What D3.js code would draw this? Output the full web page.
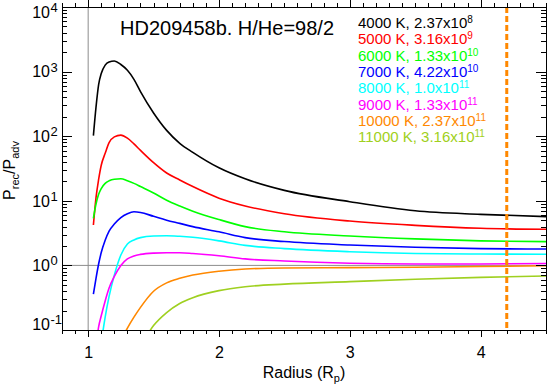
<!DOCTYPE html>
<html>
<head>
<meta charset="utf-8">
<script src="https://cdn.jsdelivr.net/npm/d3@7"></script>
<style>
  body { margin: 0; background: #fff; }
  text { font-family: "Liberation Sans", Arial, Helvetica, sans-serif; }
</style>
</head>
<body>
<div id="chart"></div>
<script>
// radius grid (in planet radii) shared by all curves
const radius = [1.04, 1.06, 1.08, 1.10, 1.13, 1.16, 1.20, 1.25, 1.30, 1.35, 1.40,
                1.50, 1.60, 1.70, 1.80, 2.00, 2.20, 2.50, 3.00, 3.50, 4.00, 4.50];

// P_rec / P_adv for each temperature
const ratio4000  = [102, 282, 631, 933, 1259, 1413, 1462, 1288, 1047, 759, 490,
                    229, 123, 77.6, 56.2, 32.4, 21.9, 14.5, 9.68, 7.0, 6.17, 5.68];
const ratio5000  = [4.22, 11.2, 21.4, 35.5, 54.3, 79.4, 97.7, 104, 93.3, 75.9, 60.3,
                    38.9, 26.9, 21.0, 16.6, 11.0, 8.32, 6.31, 4.86, 4.17, 3.76, 3.62];
const ratio6000  = [5.36, 8.91, 12.6, 15.5, 18.6, 20.4, 21.6, 21.9, 20.4, 18.6, 16.6,
                    13.2, 10.2, 8.32, 6.92, 5.13, 3.98, 3.31, 2.85, 2.57, 2.40, 2.33];
const ratio7000  = [0.36, 0.631, 1.05, 1.58, 2.45, 3.39, 4.37, 5.50, 6.31, 6.76, 6.61,
                    5.75, 5.01, 4.47, 3.98, 3.31, 2.69, 2.34, 2.07, 1.91, 1.82, 1.79];
const ratio8000  = [0.005, 0.0141, 0.0316, 0.063, 0.158, 0.331, 0.708, 1.45, 2.14, 2.48, 2.69,
                    2.85, 2.88, 2.82, 2.72, 2.40, 2.04, 1.82, 1.63, 1.53, 1.50, 1.49];
const ratio9000  = [0.025, 0.056, 0.112, 0.166, 0.282, 0.447, 0.676, 1.0, 1.26, 1.40, 1.48,
                    1.55, 1.57, 1.57, 1.53, 1.41, 1.26, 1.17, 1.08, 1.05, 1.05, 1.07];
const ratio10000 = [null, null, null, null, null, null, null, 0.0676, 0.107, 0.158, 0.224,
                    0.398, 0.537, 0.631, 0.708, 0.813, 0.879, 0.912, 0.923, 0.938, 0.959, 0.989];
const ratio11000 = [null, null, null, null, null, null, null, null, null, null, 0.056,
                    0.117, 0.186, 0.257, 0.316, 0.407, 0.468, 0.513, 0.56, 0.61, 0.653, 0.686];

const temps = [4000, 5000, 6000, 7000, 8000, 9000, 10000, 11000];
const rateMantissa = ['2.37', '3.16', '1.33', '4.22', '1.0', '1.33', '2.37', '3.16'];
const rateExponent = ['8', '9', '10', '10', '11', '11', '11', '11'];
const yTickExponents = ['-1', '0', '1', '2', '3', '4'];
const xTickValues = [1, 2, 3, 4];
const sonicRadius = 4.2;

const series = [ratio4000, ratio5000, ratio6000, ratio7000, ratio8000, ratio9000, ratio10000, ratio11000];
const colors = ['#000000', '#ff0000', '#00ff00', '#0000ff', '#00ffff', '#ff00ff', '#ff8800', '#9fd020'];

const width = 548;
const height = 386;
const plotLeft = 62, plotRight = 546, plotTop = 7, plotBottom = 330;

const svg = d3.select('#chart').append('svg')
  .attr('width', width)
  .attr('height', height);

const x = d3.scaleLinear()
  .domain([0.8, 4.5])
  .range([plotLeft, plotRight]);

const y = d3.scaleLog()
  .domain([0.1, 1e4])
  .range([plotBottom, plotTop]);

const yMajor = yTickExponents.map(e => Math.pow(10, +e));
const yMinor = [];
yMajor.slice(0, -1).forEach(d => { for (let k = 2; k < 10; k++) yMinor.push(d * k); });
const xMinor = d3.range(8, 46).map(d => d / 10);

svg.append('defs').append('clipPath')
  .attr('id', 'plot-clip')
  .append('rect')
    .attr('x', plotLeft)
    .attr('y', plotTop)
    .attr('width', plotRight - plotLeft)
    .attr('height', plotBottom - plotTop);

// reference lines at r = 1 and ratio = 1
svg.append('line')
  .attr('x1', x(1)).attr('x2', x(1))
  .attr('y1', plotTop).attr('y2', plotBottom)
  .attr('stroke', '#8c8c8c')
  .attr('stroke-width', 1);

svg.append('line')
  .attr('x1', plotLeft).attr('x2', plotRight)
  .attr('y1', y(1)).attr('y2', y(1))
  .attr('stroke', '#8c8c8c')
  .attr('stroke-width', 1);

const line = d3.line()
  .defined(d => d != null)
  .x((d, i) => x(radius[i]))
  .y(d => y(d))
  .curve(d3.curveMonotoneX);

svg.append('g')
  .attr('clip-path', 'url(#plot-clip)')
  .selectAll('path')
  .data(series)
  .join('path')
    .attr('d', d => line(d))
    .attr('fill', 'none')
    .attr('stroke', (d, i) => colors[i])
    .attr('stroke-width', 1.6);

// sonic point
svg.append('line')
  .attr('x1', x(sonicRadius)).attr('x2', x(sonicRadius))
  .attr('y1', plotTop).attr('y2', plotBottom)
  .attr('stroke', '#ff8800')
  .attr('stroke-width', 3)
  .attr('stroke-dasharray', '6,3');

// axes
const noDomain = g => g.select('.domain').remove();

svg.append('g')
  .attr('transform', `translate(0,${plotBottom})`)
  .call(d3.axisBottom(x).tickValues(xMinor).tickSize(4).tickFormat(''))
  .call(noDomain);

svg.append('g')
  .attr('class', 'x-major')
  .attr('transform', `translate(0,${plotBottom})`)
  .call(d3.axisBottom(x).tickValues(xTickValues).tickSize(7).tickPadding(10).tickFormat(d3.format('d')))
  .call(noDomain)
  .selectAll('text')
    .attr('font-size', 16)
    .attr('font-family', null);

svg.append('g')
  .attr('transform', `translate(0,${plotTop})`)
  .call(d3.axisTop(x).tickValues(xMinor).tickSize(4).tickFormat(''))
  .call(noDomain);

svg.append('g')
  .attr('transform', `translate(0,${plotTop})`)
  .call(d3.axisTop(x).tickValues(xTickValues).tickSize(7).tickFormat(''))
  .call(noDomain);

svg.append('g')
  .attr('transform', `translate(${plotLeft},0)`)
  .call(d3.axisLeft(y).tickValues(yMinor).tickSize(-5).tickFormat(''))
  .call(noDomain);

svg.append('g')
  .attr('transform', `translate(${plotLeft},0)`)
  .call(d3.axisLeft(y).tickValues(yMajor).tickSize(-10).tickFormat(''))
  .call(noDomain);

svg.append('g')
  .attr('transform', `translate(${plotRight},0)`)
  .call(d3.axisRight(y).tickValues(yMinor).tickSize(-5).tickFormat(''))
  .call(noDomain);

svg.append('g')
  .attr('transform', `translate(${plotRight},0)`)
  .call(d3.axisRight(y).tickValues(yMajor).tickSize(-10).tickFormat(''))
  .call(noDomain);

svg.selectAll('.tick line').attr('shape-rendering', 'crispEdges');

svg.append('rect')
  .attr('x', plotLeft)
  .attr('y', plotTop)
  .attr('width', plotRight - plotLeft)
  .attr('height', plotBottom - plotTop)
  .attr('fill', 'none')
  .attr('stroke', '#000')
  .attr('stroke-width', 1)
  .attr('shape-rendering', 'crispEdges');

// y tick labels 10^n
const yLabels = svg.append('g')
  .selectAll('g')
  .data(yTickExponents)
  .join('g')
    .attr('transform', d => `translate(0,${Math.min(Math.max(y(Math.pow(10, +d)), 12), 324)})`);

yLabels.append('text')
  .attr('x', 50)
  .attr('dy', '0.36em')
  .attr('text-anchor', 'end')
  .attr('font-size', 16)
  .text('10');

yLabels.append('text')
  .attr('x', 50.5)
  .attr('y', 0)
  .attr('font-size', 13)
  .text(d => d);

// axis titles
const xTitle = svg.append('text')
  .attr('x', (plotLeft + plotRight) / 2)
  .attr('y', 378)
  .attr('text-anchor', 'middle')
  .attr('font-size', 16);
xTitle.append('tspan').text('Radius (R');
xTitle.append('tspan').attr('font-size', 11).attr('dy', 4).text('p');
xTitle.append('tspan').attr('dy', -4).text(')');

const yTitle = svg.append('text')
  .attr('transform', `translate(15,${(plotTop + plotBottom) / 2 + 2}) rotate(-90)`)
  .attr('text-anchor', 'middle')
  .attr('font-size', 16);
yTitle.append('tspan').text('P');
yTitle.append('tspan').attr('font-size', 11).attr('dy', 4).text('rec');
yTitle.append('tspan').attr('dy', -4).text('/P');
yTitle.append('tspan').attr('font-size', 11).attr('dy', 4).text('adv');

// title
svg.append('text')
  .attr('x', 120)
  .attr('y', 35)
  .attr('font-size', 20)
  .text('HD209458b. H/He=98/2');

// legend
const legend = svg.append('g')
  .selectAll('text')
  .data(temps)
  .join('text')
    .attr('x', 358)
    .attr('y', (d, i) => 28 + i * 16.3)
    .attr('font-size', 15)
    .attr('fill', (d, i) => colors[i]);

legend.append('tspan')
  .text((d, i) => `${d} K, ${rateMantissa[i]}x10`);
legend.append('tspan')
  .attr('font-size', 10)
  .attr('dy', -5)
  .text((d, i) => rateExponent[i]);
</script>
</body>
</html>
